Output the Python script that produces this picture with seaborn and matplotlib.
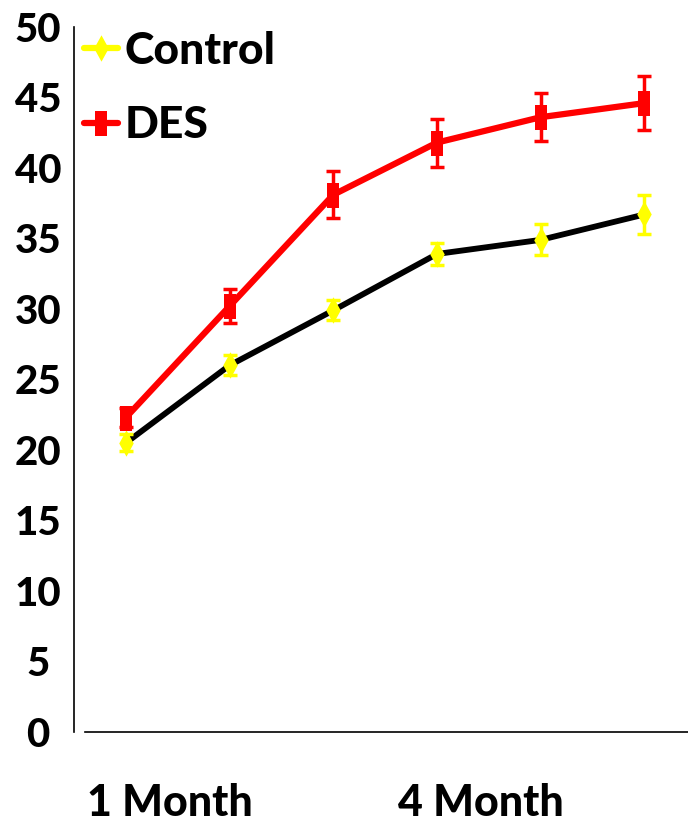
import matplotlib
matplotlib.use("Agg")
import matplotlib.pyplot as plt
import numpy as np
import pandas as pd
import seaborn as sns
from matplotlib.lines import Line2D

# Time points (only two are labelled on the axis)
timepoints = [0, 1, 2, 3, 4, 5]
tick_labels = ["1 Month", "4 Month"]
tick_positions = [0.42, 3.42]

# Mean values and error
control_mean = [20.5, 26.0, 29.9, 33.9, 34.9, 36.7]
control_err = [0.6, 0.7, 0.7, 0.8, 1.1, 1.4]
des_mean = [22.3, 30.2, 38.1, 41.8, 43.6, 44.6]
des_err = [0.7, 1.2, 1.65, 1.7, 1.7, 1.9]

sns.set_theme(style="white")
plt.rcParams["font.family"] = ["Lato", "DejaVu Sans"]
plt.rcParams["font.weight"] = "black"
for key in ["text.color", "xtick.color", "ytick.color", "axes.labelcolor"]:
    plt.rcParams[key] = "black"

# tall (squeezed) markers like the original
tall_square = [(-0.5, -1), (0.5, -1), (0.5, 1), (-0.5, 1), (-0.5, -1)]
tall_diamond = [(0, 1), (0.55, 0), (0, -1), (-0.55, 0), (0, 1)]

df = pd.DataFrame({
    "time": timepoints * 2,
    "value": control_mean + des_mean,
    "group": ["Control"] * 6 + ["DES"] * 6,
})

fig = plt.figure(figsize=(6.88, 8.24), dpi=100)
ax = fig.add_axes([0.1076, 0.1117, 0.8924, 0.8556])

sns.lineplot(data=df[df.group == "Control"], x="time", y="value",
             color="black", linewidth=4.2, ax=ax, zorder=2)
sns.lineplot(data=df[df.group == "DES"], x="time", y="value",
             color="#ff0000", linewidth=4.5, ax=ax, zorder=2)

ax.errorbar(timepoints, control_mean, yerr=control_err, fmt="none",
            ecolor="#ffff00", elinewidth=2.5, capsize=5, capthick=2.5, zorder=3)
ax.errorbar(timepoints, des_mean, yerr=des_err, fmt="none",
            ecolor="#ff0000", elinewidth=2.5, capsize=5, capthick=2.5, zorder=3)

ax.plot(timepoints, control_mean, linestyle="none", marker=tall_diamond,
        markersize=19, color="#ffff00", markeredgewidth=0, zorder=4)
ax.plot(timepoints, des_mean, linestyle="none", marker=tall_square,
        markersize=18, color="#ff0000", markeredgewidth=0, zorder=4)

ax.set_xlim(-0.5, 5.42)
ax.set_ylim(0, 50)
ax.set_yticks(np.arange(0, 51, 5))
ax.set_xticks(tick_positions)
ax.set_xticklabels(tick_labels)
ax.set_xlabel("")
ax.set_ylabel("")

for lab in ax.get_yticklabels():
    lab.set_fontweight("black")
    lab.set_fontsize(29)
    lab.set_horizontalalignment("center")
for lab in ax.get_xticklabels():
    lab.set_fontweight("black")
    lab.set_fontsize(31)
ax.tick_params(axis="y", length=0, pad=26)
ax.tick_params(axis="x", length=0, pad=37)

ax.spines["top"].set_visible(False)
ax.spines["right"].set_visible(False)
for s in ["left", "bottom"]:
    ax.spines[s].set_color("black")
    ax.spines[s].set_linewidth(1.2)
ax.spines["bottom"].set_bounds(-0.39, 5.42)

handles = [
    Line2D([], [], color="#ffff00", lw=4.5, marker=tall_diamond,
           markersize=19, markeredgewidth=0),
    Line2D([], [], color="#ff0000", lw=4.5, marker=tall_square,
           markersize=18, markeredgewidth=0),
]
leg = ax.legend(handles, ["Control", "DES"], loc="upper left",
                bbox_to_anchor=(-0.012, 1.02), frameon=False,
                prop={"weight": "black", "size": 32}, handlelength=0.75,
                handletextpad=0.15, labelspacing=0.78, borderaxespad=0)

fig.savefig("out.png", dpi=100)
